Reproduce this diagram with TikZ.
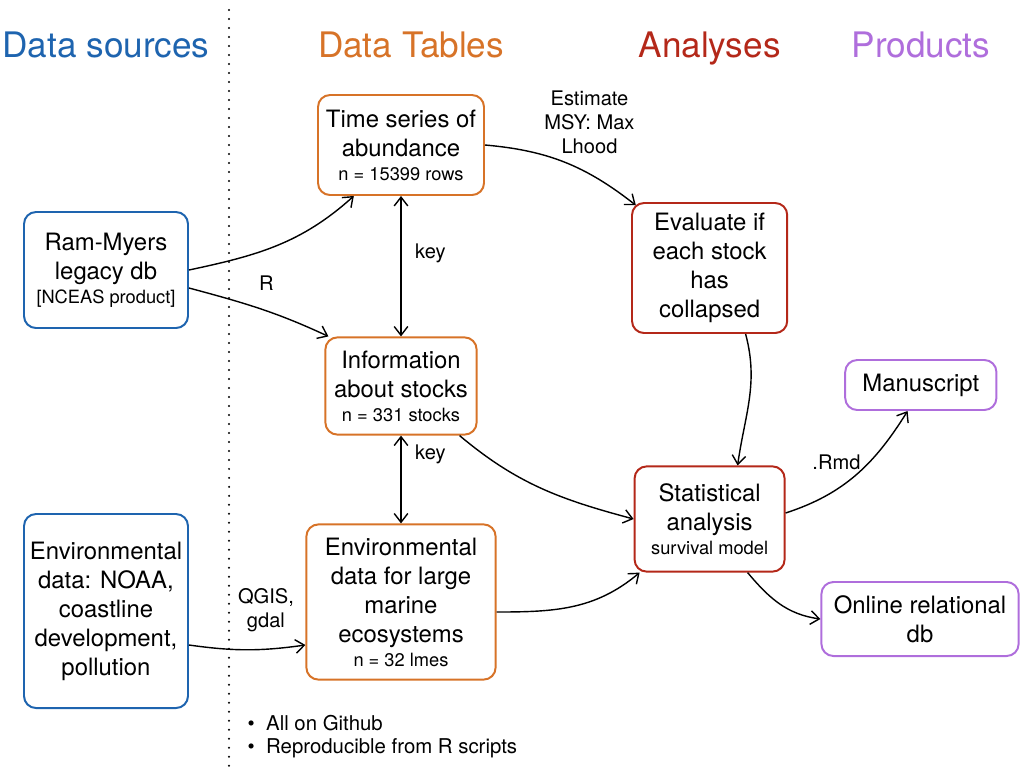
\documentclass[tikz,border=0pt]{standalone}
\usepackage{fontspec}
\setmainfont{TeX Gyre Heros}
\usetikzlibrary{positioning,arrows.meta}
\definecolor{srcblue}{RGB}{30,100,175}
\definecolor{tblorange}{RGB}{215,115,40}
\definecolor{anared}{RGB}{180,40,25}
\definecolor{prodpurple}{RGB}{175,110,220}
\tikzset{
  box/.style={draw, rounded corners=0.3cm, line width=1.4pt, align=center,
    inner sep=2pt, font=\fontsize{17}{20.6}\selectfont},
  src/.style={box, draw=srcblue},
  tbl/.style={box, draw=tblorange},
  ana/.style={box, draw=anared},
  prod/.style={box, draw=prodpurple},
  head/.style={font=\fontsize{25}{30}\selectfont, text height=0.72em, text depth=0.22em},
  lbl/.style={font=\fontsize{14.3}{17}\selectfont, align=center, inner sep=1pt},
}
\newcommand{\smalltxt}{\fontsize{13}{15}\selectfont}

\begin{document}
\begin{tikzpicture}[on grid, >={Straight Barb[length=2.2mm,width=3.4mm]}, line width=1pt]
    \useasboundingbox (0,0) rectangle (25.7,-19.3);

    \node[tbl, minimum width=4.15cm, minimum height=2.5cm] (ts) at (10.025,-3.625)
        {Time series of\\abundance\\[-3.5pt]{\smalltxt n = 15399 rows}};
    \node[tbl, minimum width=3.78cm, minimum height=2.43cm] (info) [below=6.025cm of ts]
        {Information\\about stocks\\[-3.5pt]{\smalltxt n = 331 stocks}};
    \node[tbl, minimum width=4.73cm, minimum height=3.88cm] (lme) [below=5.4cm of info]
        {Environmental\\data for large\\marine\\ecosystems\\[-3.5pt]{\smalltxt n = 32 lmes}};
    \node[src, minimum width=4.1cm, minimum height=2.9cm] (ram) [below left=3.125cm and 7.375cm of ts]
        {Ram-Myers\\legacy db\\[-3.5pt]{\smalltxt [NCEAS product]}};
    \node[src, minimum width=4.1cm, minimum height=4.85cm] (env) [below=8.525cm of ram]
        {Environmental\\data: NOAA,\\coastline\\development,\\pollution};
    \node[ana, minimum width=3.88cm, minimum height=3.25cm] (eval) [below right=3.075cm and 7.715cm of ts]
        {Evaluate if\\each stock\\has\\collapsed};
    \node[ana, minimum width=3.75cm, minimum height=2.63cm] (stat) [below=6.275cm of eval]
        {Statistical\\analysis\\[-3.5pt]{\smalltxt survival model}};
    \node[prod, minimum width=3.78cm, minimum height=1.25cm] (manu) [above right=3.35cm and 5.28cm of stat]
        {Manuscript};
    \node[prod, minimum width=4.93cm, minimum height=1.85cm] (online) [below right=2.5cm and 5.26cm of stat]
        {Online relational\\db};

    % column headings
    \node[head, text=srcblue] (hsrc) [above=5.4cm of ram] {Data sources};
    \node[head, text=tblorange] (htbl) [above=2.275cm of ts, xshift=0.25cm] {Data Tables};
    \node[head, text=anared] (hana) [above=5.35cm of eval] {Analyses};
    \node[head, text=prodpurple] (hprod) [above=8.275cm of manu] {Products};

    \draw[line width=1.6pt, line cap=round, dash pattern=on 0pt off 6.4pt] (5.725,-0.25) -- (5.725,-19.3);

    \node[lbl, align=left, anchor=west, font=\fontsize{14.5}{16.6}\selectfont] (notes) at (6.14,-18.41)
        {\textbullet\ \ All on Github\\\textbullet\ \ Reproducible from R scripts};

    \path[->]
    (ram.east) edge[out=12, in=222] ([xshift=0.92cm]ts.south west)
    ([yshift=-0.45cm]ram.east) edge[out=-15, in=155] node[lbl, above=0.45cm, pos=0.55] {R} ([xshift=0.1cm]info.north west)
    (ts.east) edge[out=-5, in=142] node[lbl, above right=0.25cm and -0.75cm, pos=0.55] {Estimate\\MSY: Max\\Lhood} ([shift={(0.12cm,-0.08cm)}]eval.north west)
    ([xshift=0.9cm]eval.south) edge[out=-75, in=82] ([xshift=0.7cm]stat.north)
    ([xshift=-0.45cm]info.south east) edge[out=-40, in=165] (stat.west)
    ([yshift=-0.25cm]lme.east) edge[out=0, in=220] ([xshift=0.15cm]stat.south west)
    ([yshift=-0.85cm]env.east) edge[bend right=8] node[lbl, above=0.4cm, pos=0.6, xshift=0.2cm] {QGIS,\\gdal} ([yshift=-1.075cm]lme.west)
    ([yshift=0.15cm]stat.east) edge[out=18, in=238] node[lbl, above left=0.3cm and -0.45cm, pos=0.4] {.Rmd} ([xshift=-0.33cm]manu.south)
    ([xshift=0.95cm]stat.south) edge[out=-50, in=172] (online.west);

    \path[<->]
    (ts.south) edge node[lbl, right=0.3cm, pos=0.41] {key} (info.north)
    (info.south) edge node[lbl, right=0.3cm, pos=0.21] {key} (lme.north);
\end{tikzpicture}
\end{document}
